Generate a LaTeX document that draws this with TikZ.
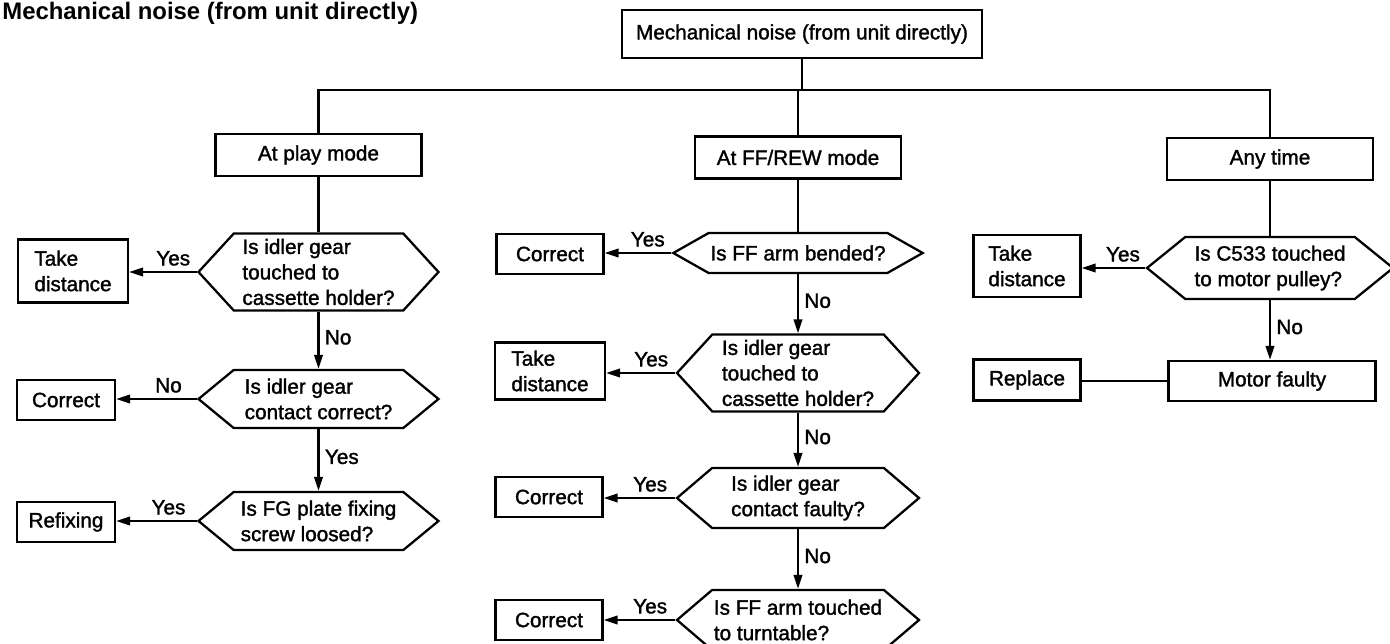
\documentclass[tikz,border=0pt]{standalone}
\usepackage{fontspec}
\setmainfont{Liberation Sans}
\newfontfamily\chartfont{Liberation Sans}[FakeBold=1.5]
\usetikzlibrary{arrows.meta,shapes.symbols}
\tikzset{
  fline/.style={line width=1.3pt, black},
  farr/.style ={fline, -{Triangle[length=2.8mm,width=1.7mm]}},
  fbox/.style ={rectangle, draw, line width=1.3pt, inner sep=2pt, align=left,
                font=\chartfont\fontsize{11.8}{14.5}\selectfont},
  fmode/.style={fbox, minimum width=4.12cm, minimum height=0.84cm},
  fdec/.style ={signal, signal to=east and west, signal pointer angle=#1,
                draw, line width=1.3pt, inner sep=1pt, align=left,
                font=\chartfont\fontsize{11.8}{14.5}\selectfont},
  fdec/.default=80,
  flbl/.style ={inner sep=3pt, font=\chartfont\fontsize{11.8}{14.5}\selectfont},
}
\begin{document}
\begin{tikzpicture}
  \useasboundingbox (0,0) rectangle (27.8,-12.88);
  % heading, top box and the three modes
  \node[anchor=base west, inner sep=0pt, font=\bfseries\fontsize{13.6}{16}\selectfont] (ttl)
    at (0.04,-0.40) {Mechanical noise (from unit directly)};
  \node[fbox, minimum width=7.2cm, minimum height=0.96cm] (top) at (16.04,-0.68)
    {Mechanical noise (from unit directly)};
  \coordinate (bus) at (15.98,-1.80);
  \node[fmode] (pm) at (6.37,-3.10)  {At play mode};
  \node[fmode] (fm) at (15.96,-3.15) {At FF/REW mode};
  \node[fmode] (am) at (25.40,-3.18) {Any time};
  \draw[fline] (top) -- (top |- bus);
  \draw[fline] (pm) |- (bus) -| (am);
  \draw[fline] (fm) -- (fm |- bus);

  % play mode
  \node[fdec=95, minimum width=4.8cm, minimum height=1.54cm] (d1) at (6.37,-5.44)
    {Is idler gear\\touched to\\cassette holder?};
  \node[fdec=79, minimum width=4.8cm, minimum height=1.16cm] (d2) at (6.37,-7.98)
    {Is idler gear\\contact correct?};
  \node[fdec=79, minimum width=4.8cm, minimum height=1.16cm] (d3) at (6.37,-10.42)
    {Is FG plate fixing\\screw loosed?};
  \node[fbox, minimum width=2.2cm, minimum height=1.26cm] (td1) at (1.46,-5.42) {Take\\distance};
  \node[fbox, minimum width=1.96cm, minimum height=0.8cm] (cr1) at (1.32,-8.0) {Correct};
  \node[fbox, minimum width=1.96cm, minimum height=0.8cm] (rf) at (1.32,-10.44) {Refixing};

  % FF/REW mode
  \node[fdec=59, minimum width=4.8cm, minimum height=0.80cm] (da) at (15.96,-5.06)
    {Is FF arm bended?};
  \node[fdec=95, minimum width=4.84cm, minimum height=1.54cm] (db) at (15.96,-7.46)
    {Is idler gear\\touched to\\cassette holder?};
  \node[fdec=81, minimum width=4.84cm, minimum height=1.2cm] (dc) at (15.96,-9.96)
    {Is idler gear\\contact faulty?};
  \node[fdec=81, minimum width=4.84cm, minimum height=1.2cm] (dd) at (15.96,-12.40)
    {Is FF arm touched\\to turntable?};
  \foreach \n/\x/\y in {cr2/11.0/-5.08, cr3/10.98/-9.94, cr4/10.98/-12.40}
    \node[fbox, minimum width=2.14cm, minimum height=0.8cm] (\n) at (\x,\y) {Correct};
  \node[fbox, minimum width=2.2cm, minimum height=1.14cm] (td2) at (11.0,-7.42) {Take\\distance};

  % any time
  \node[fdec=78, minimum width=4.92cm, minimum height=1.24cm] (dr) at (25.40,-5.36)
    {Is C533 touched\\to motor pulley?};
  \node[fbox, minimum width=2.14cm, minimum height=1.24cm] (td3) at (20.54,-5.32) {Take\\distance};
  \node[fbox, minimum width=4.14cm, minimum height=0.8cm] (mf) at (25.44,-7.62) {Motor faulty};
  \node[fbox, minimum width=2.14cm, minimum height=0.82cm] (rp) at (20.54,-7.60) {Replace};

  % connectors
  \foreach \a/\b in {pm/d1, fm/da, am/dr}
    \draw[fline] (\a.south) -- (\a.south |- \b.north);
  \foreach \a/\b/\t in {d1/d2/No, d2/d3/Yes, da/db/No, db/dc/No, dc/dd/No, dr/mf/No}
    \draw[farr] (\a.south) -- node[flbl, right, pos=0.45] {\t} (\a.south |- \b.north);
  \foreach \a/\b/\t in {d1/td1/Yes, d2/cr1/No, d3/rf/Yes, da/cr2/Yes, db/td2/Yes,
                        dc/cr3/Yes, dd/cr4/Yes, dr/td3/Yes}
    \draw[farr] (\a.west) -- node[flbl, above, pos=0.35] {\t} (\a.west -| \b.east);
  \draw[fline] (mf.west) -- (mf.west -| rp.east);
\end{tikzpicture}
\end{document}
